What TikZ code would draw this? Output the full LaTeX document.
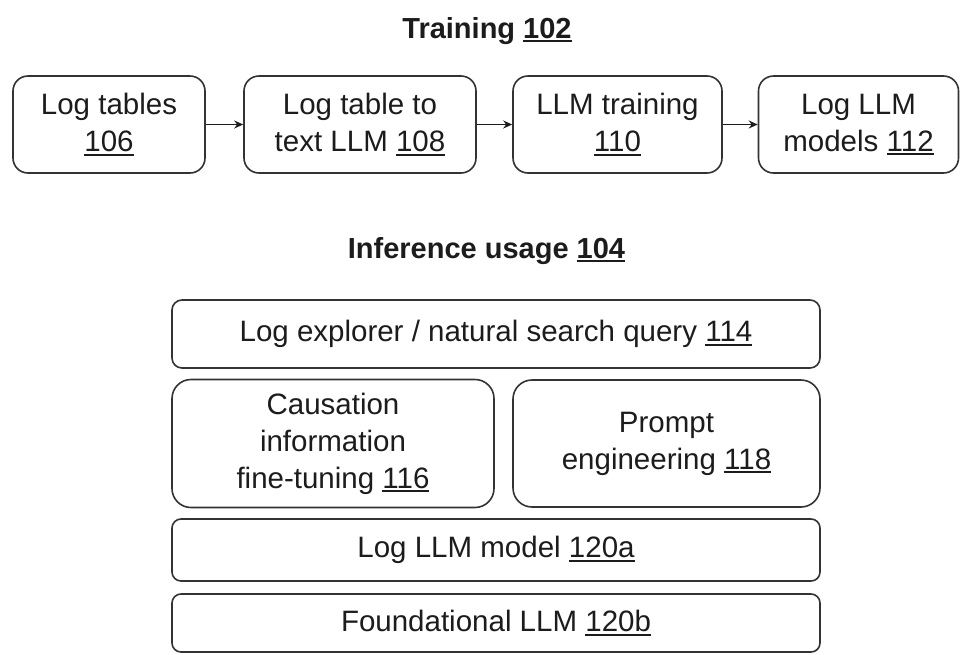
\documentclass[tikz,border=0pt]{standalone}
\usepackage{fontspec}
\setmainfont{Liberation Sans}
\usetikzlibrary{arrows.meta}
\definecolor{ink}{HTML}{1C1C1C}
\definecolor{edge}{HTML}{333333}
% reference number, underlined
\newcommand\refno[1]{\setbox0\hbox{#1}\rlap{\rule[-4.2pt]{\wd0}{1.9pt}}\box0}
\tikzset{
  box/.style={draw=edge, line width=1.6pt, fill=white, text=ink, align=center,
    inner sep=0pt, font=\fontsize{29.5}{37}\selectfont},
  heading/.style={text=ink, anchor=base, inner sep=0pt,
    font=\fontsize{29}{34}\selectfont\bfseries},
  flow/.style={draw=ink, line width=1.4pt, -{Stealth[length=9pt,width=8pt]}},
}
\begin{document}
\begin{tikzpicture}[x=1pt,y=-1pt]
\useasboundingbox (0,0) rectangle (961,654);

% training pipeline
\node[heading] (train) at (487,38) {Training \refno{102}};
\node[box, minimum width=192pt, minimum height=97pt, rounded corners=15pt] (b106) at (109,124.5) {Log tables\\\refno{106}};
\node[box, minimum width=232pt, minimum height=97pt, rounded corners=15pt] (b108) at (360,124.5) {Log table to\\text LLM \refno{108}};
\node[box, minimum width=209pt, minimum height=97pt, rounded corners=15pt] (b110) at (617.5,124.5) {LLM training\\\refno{110}};
\node[box, minimum width=200pt, minimum height=97pt, rounded corners=15pt] (b112) at (858.5,124.5) {Log LLM\\models \refno{112}};
\draw[flow] (b106) -- (b108);
\draw[flow] (b108) -- (b110);
\draw[flow] (b110) -- (b112);

% inference stack
\node[heading] (infer) at (486.5,258) {Inference usage \refno{104}};
\node[box, minimum width=648pt, minimum height=68pt, rounded corners=10pt] (b114) at (496,334) {Log explorer / natural search query \refno{114}};
\node[box, minimum width=322pt, minimum height=128pt, rounded corners=19pt] (b116) at (333,443.5) {Causation\\information\\fine-tuning \refno{116}};
\node[box, minimum width=307pt, minimum height=127pt, rounded corners=19pt] (b118) at (666.5,443.5) {Prompt\\engineering \refno{118}};
\node[box, minimum width=648pt, minimum height=62pt, rounded corners=9pt] (b120a) at (496,550) {Log LLM model \refno{120a}};
\node[box, minimum width=648pt, minimum height=58pt, rounded corners=9pt] (b120b) at (496,623) {Foundational LLM \refno{120b}};
\end{tikzpicture}
\end{document}
